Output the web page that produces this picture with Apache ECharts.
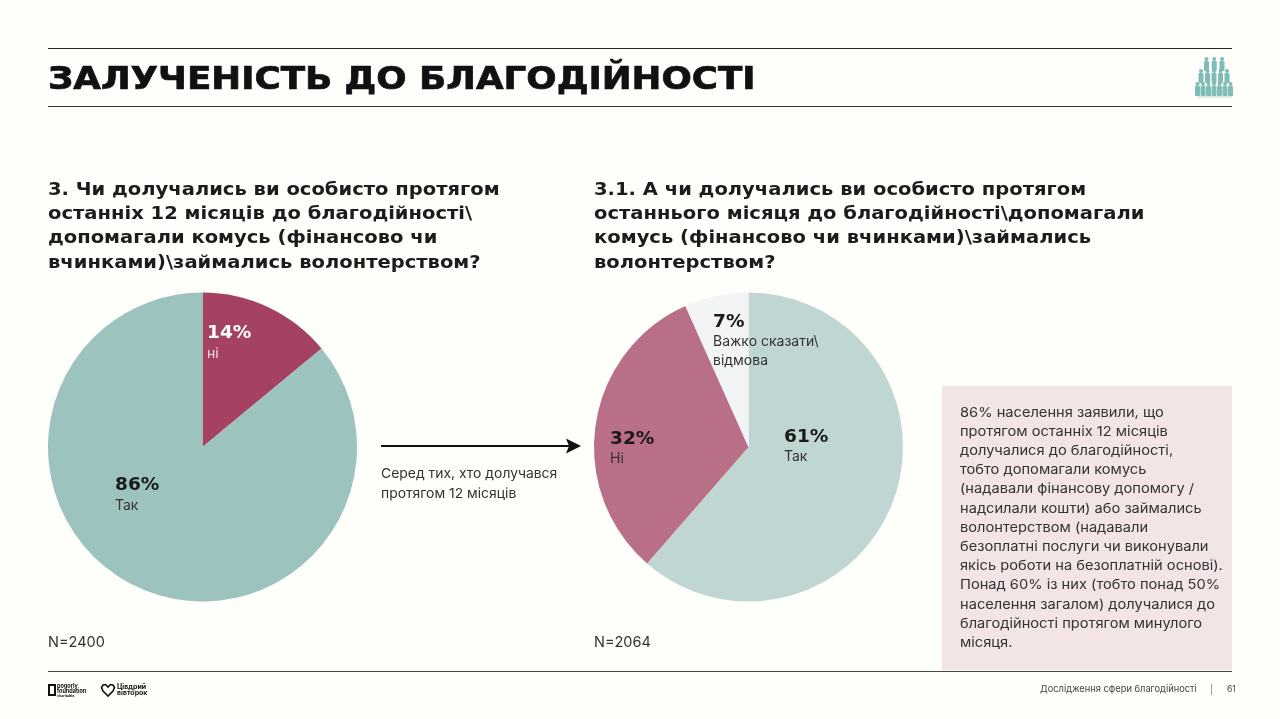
<!DOCTYPE html>
<html><head><meta charset="utf-8">
<style>html,body{margin:0;padding:0;background:#fefefa}#c{width:1280px;height:719px}</style>
<script src="https://cdn.jsdelivr.net/npm/echarts@6/dist/echarts.min.js"></script></head>
<body><div id="c"></div>
<script>
const title = 'ЗАЛУЧЕНІСТЬ ДО БЛАГОДІЙНОСТІ';
const q1Lines = ['3. Чи долучались ви особисто протягом','останніх 12 місяців до благодійності\\','допомагали комусь (фінансово чи','вчинками)\\займались волонтерством?'];
const q2Lines = ['3.1. А чи долучались ви особисто протягом','останнього місяця до благодійності\\допомагали','комусь (фінансово чи вчинками)\\займались','волонтерством?'];
const pie1Names = ['ні','Так'];
const pie1Values = [14,86];
const pie1Colors = ['#a54263','#9cc3be'];
const pie2Names = ['Так','Ні','Важко сказати\\\nвідмова'];
const pie2Labels = [61,32,7];
const pie2Values = [61.4,31.9,6.7];
const pie2Colors = ['#c0d6d3','#b96f88','#f3f4f5'];
const noteLines = ['86% населення заявили, що','протягом останніх 12 місяців','долучалися до благодійності,','тобто допомагали комусь','(надавали фінансову допомогу /','надсилали кошти) або займались','волонтерством (надавали','безоплатні послуги чи виконували','якісь роботи на безоплатній основі).','Понад 60% із них (тобто понад 50%','населення загалом) долучалися до','благодійності протягом минулого','місяця.'];

const BODY = 'Inter, "Noto Sans", sans-serif';
const HEAD = '"DejaVu Sans", sans-serif';
const g = [];
function line(x1,y1,x2,y2,c,w){g.push({type:'line',shape:{x1,y1,x2,y2},style:{stroke:c,lineWidth:w||1},silent:true});}
function txt(x,y,text,size,opt){opt=opt||{};g.push({type:'text',x,y,scaleX:opt.sx||1,z:10,style:{text,fill:opt.c||'#1a1a1a',stroke:opt.st||null,lineWidth:opt.st?(opt.lw||0.5):0,font:(opt.w||400)+' '+size+'px '+(opt.f||BODY),textVerticalAlign:'middle',textAlign:opt.a||'left'}});}

line(48,48.5,1232,48.5,'#222',1);
line(48,106.5,1232,106.5,'#333',1);
line(48,671.5,1232,671.5,'#444',1);
txt(48,80.5,title,32,{f:HEAD,w:700,c:'#111',st:'#111',lw:0.7,sx:1.115});

const qOpt = {f:HEAD,w:700,c:'#1c1c1c',sx:1.085};
q1Lines.forEach((t,i)=>txt(48,190+i*24.3,t,18,qOpt));
q2Lines.forEach((t,i)=>txt(594,190+i*24.3,t,18,qOpt));

const pct = {f:HEAD,w:700,c:'#1a1a1a',sx:1.03};
txt(207,333,pie1Values[0]+'%',18,Object.assign({},pct,{c:'#fff'}));
txt(207,353.5,pie1Names[0],14,{c:'#f3dfe5'});
txt(115,485,pie1Values[1]+'%',18,pct);
txt(115,505.5,pie1Names[1],14,{c:'#333'});
txt(784,437,pie2Labels[0]+'%',18,pct);
txt(784,456.5,pie2Names[0],14,{c:'#333'});
txt(610,439,pie2Labels[1]+'%',18,pct);
txt(610,458.5,pie2Names[1],14,{c:'#333'});
txt(713,322,pie2Labels[2]+'%',18,pct);
pie2Names[2].split('\n').forEach((t,i)=>txt(713,341.5+i*19.5,t,14,{c:'#333'}));

txt(48,642.5,'N=2400',14.5,{c:'#333'});
txt(594,642.5,'N=2064',14.5,{c:'#333'});

line(381,446,574,446,'#111',2);
g.push({type:'polygon',shape:{points:[[566,438.5],[581,446],[566,453.5],[569,446]]},style:{fill:'#111'}});
txt(381,473.5,'Серед тих, хто долучався',13.5,{c:'#333',sx:1.03});
txt(381,493.5,'протягом 12 місяців',13.5,{c:'#333',sx:1.03});

g.push({type:'rect',shape:{x:942,y:386,width:290,height:284},style:{fill:'#f3e4e6'}});
noteLines.forEach((t,i)=>txt(960,412.5+i*19.2,t,13.5,{c:'#333',sx:1.085}));

// footer
txt(1040,689.5,'Дослідження сфери благодійності',9.5,{c:'#444',sx:0.98});
line(1211.5,684,1211.5,695,'#999',1);
txt(1227,689.5,'61',8.5,{c:'#444'});
g.push({type:'rect',shape:{x:49,y:685,width:6,height:10},style:{fill:'#fefefa',stroke:'#111',lineWidth:2}});
txt(57,686,'pogorly',5.5,{w:700,c:'#111'});
txt(57,691,'foundation',5.5,{w:700,c:'#111'});
txt(57,695.5,'charitable',3.5,{w:700,c:'#111'});
g.push({type:'polygon',shape:{points:[[108,696],[103,691],[101.5,687.5],[103,685],[105.5,684.5],[108,687],[110.5,684.5],[113,685],[114.5,687.5],[113,691]]},style:{fill:'none',stroke:'#111',lineWidth:1.6}});
txt(117,686.5,'Цівдрий',7,{w:700,c:'#111'});
txt(117,693,'вівторок',7,{w:700,c:'#111'});

// people icon
[[1206.5,1222,59,3],[1201,1227,71,5],[1197.5,1230.5,84,7]].forEach(r=>{
  for(let i=0;i<r[3];i++){
    const x=r[0]+(r[1]-r[0])*i/(r[3]-1);
    g.push({type:'circle',shape:{cx:x,cy:r[2],r:2},style:{fill:'#7fbcb8'}});
    g.push({type:'rect',shape:{x:x-2.5,y:r[2]+2,width:5,height:10,r:1},style:{fill:'#7fbcb8'}});
  }
});
line(1197,97,1232,97,'#dcebe8',2);

function pie(cx,names,values,colors){
  return {type:'pie',center:[cx,447],radius:[0,154.5],startAngle:90,clockwise:true,silent:true,animation:false,
    label:{show:false},labelLine:{show:false},
    data:names.map((n,i)=>({name:n,value:values[i],itemStyle:{color:colors[i]}}))};
}
const chart = echarts.init(document.getElementById('c'),null,{renderer:'canvas'});
chart.setOption({backgroundColor:'#fefefa',animation:false,
  series:[pie(202.5,pie1Names,pie1Values,pie1Colors),pie(748.5,pie2Names,pie2Values,pie2Colors)],
  graphic:{elements:g}});
</script></body></html>
